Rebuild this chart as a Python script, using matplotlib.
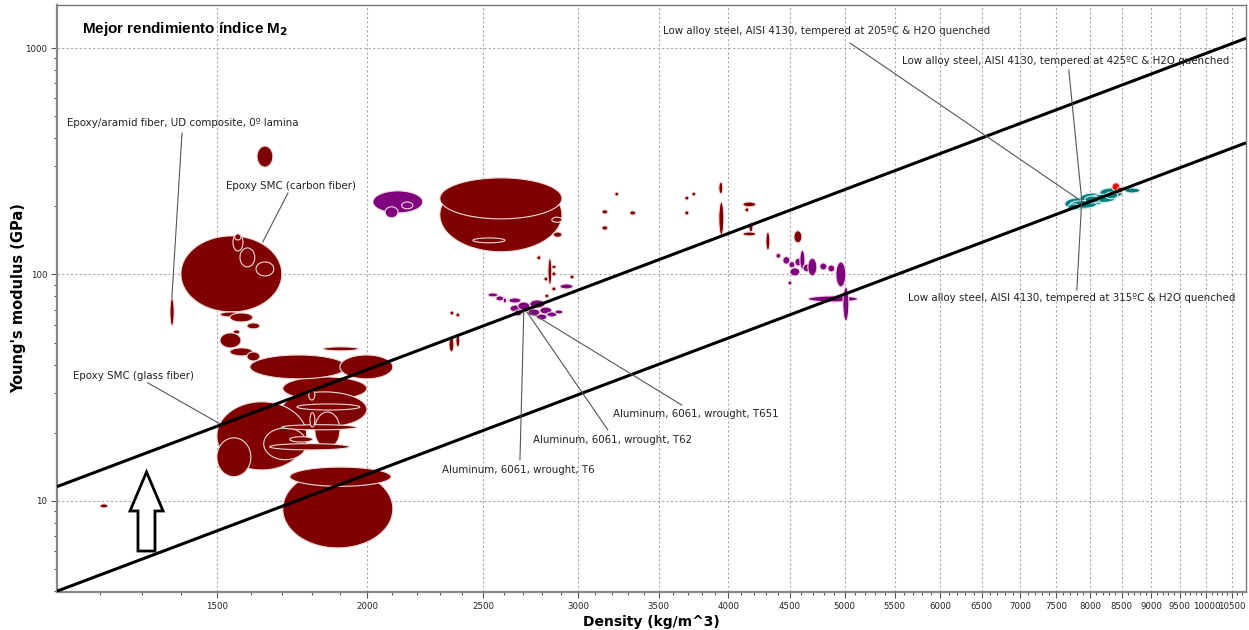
import matplotlib
matplotlib.use("Agg")
import matplotlib.pyplot as plt
import numpy as np
from matplotlib.patches import Polygon
from matplotlib.ticker import FixedLocator, FixedFormatter, NullFormatter

# Bubble extents: (rho_lo, rho_hi, E_lo, E_hi), kg/m^3 and GPa
composite_bubbles = [
    (1371, 1382, 59.2, 78.8),
    (1620, 1670, 298, 369),
    (1400, 1699, 68.3, 148),
    (1547, 1577, 127, 151),
    (1568, 1613, 108, 131),
    (1617, 1673, 98.5, 113.6),
    (1552, 1571, 142, 151),
    (1509, 1574, 64.9, 68.3),
    (1538, 1607, 61.7, 67.6),
    (1589, 1629, 57.5, 61.1),
    (1547, 1568, 54.6, 56.9),
    (1509, 1571, 47.4, 55.2),
    (1538, 1607, 43.7, 47.4),
    (1589, 1629, 41.5, 45.5),
    (1838, 1969, 46.0, 47.9),
    (1702, 2000, 27.9, 35.3),
    (1598, 1924, 34.6, 44.1),
    (1899, 2102, 34.6, 44.1),
    (1699, 2000, 21.2, 30.3),
    (1749, 1973, 25.2, 26.8),
    (1500, 1782, 13.7, 27.4),
    (1810, 1899, 17.1, 24.7),
    (1500, 1601, 12.8, 19.0),
    (1641, 1782, 15.2, 21.0),
    (1660, 1935, 16.8, 17.9),
    (1699, 1962, 20.6, 21.7),
    (1789, 1810, 27.9, 30.9),
    (1793, 1810, 21.2, 24.5),
    (1725, 1803, 18.2, 19.2),
    (1702, 2102, 6.20, 13.7),
    (1725, 2095, 11.6, 14.1),
    (1199, 1217, 9.31, 9.70),
    (2300, 2907, 126, 267),
    (2300, 2907, 176, 267),
    (2451, 2606, 138, 145),
    (2851, 2907, 170, 179),
    (2858, 2907, 146, 154),
    (2770, 2792, 116, 121),
    (2830, 2851, 89.9, 118),
    (2851, 2874, 106, 110),
    (2851, 2874, 98.5, 102.6),
    (2808, 2830, 93.6, 97.5),
    (2952, 2975, 95.5, 99.5),
    (2851, 2874, 84.6, 88.1),
    (2813, 2835, 78.8, 82.0),
    (2345, 2363, 66.2, 69.0),
    (2372, 2390, 64.9, 67.6),
    (2341, 2363, 45.5, 53.0),
    (2372, 2390, 47.9, 54.1),
    (3138, 3174, 185, 193),
    (3138, 3174, 157, 164),
    (3217, 3241, 222, 231),
    (3311, 3349, 183, 191),
    (3679, 3708, 213, 222),
    (3729, 3757, 222, 231),
    (3679, 3708, 183, 191),
    (3927, 3957, 227, 256),
    (3927, 3965, 149, 209),
    (4112, 4216, 199, 209),
    (4128, 4160, 189, 197),
    (4160, 4192, 154, 169),
    (4112, 4216, 148, 154),
    (4298, 4331, 128, 154),
    (4535, 4605, 138, 156),
]

nonferrous_bubbles = [
    (2023, 2226, 187, 234),
    (2071, 2123, 178, 199),
    (2138, 2184, 195, 209),
    (2896, 2969, 86.3, 90.8),
    (2522, 2571, 79.6, 82.9),
    (2561, 2601, 76.4, 80.4),
    (2597, 2614, 74.8, 78.8),
    (2625, 2687, 74.8, 78.8),
    (2631, 2692, 68.3, 73.3),
    (2671, 2733, 69.7, 75.6),
    (2733, 2813, 71.1, 77.2),
    (2786, 2851, 66.9, 71.8),
    (2723, 2786, 65.6, 70.4),
    (2770, 2824, 63.0, 66.9),
    (2824, 2879, 64.9, 68.3),
    (2868, 2912, 66.9, 69.7),
    (2651, 2692, 65.6, 69.7),
    (4381, 4423, 118, 124),
    (4440, 4500, 111, 120),
    (4492, 4544, 107, 114),
    (4544, 4605, 109, 118),
    (4587, 4632, 105, 128),
    (4500, 4587, 98.5, 107),
    (4614, 4694, 102.6, 111.3),
    (4658, 4739, 98.5, 118),
    (4766, 4831, 104.7, 112.4),
    (4840, 4905, 102.6, 110.1),
    (4915, 5010, 88.1, 113.6),
    (4483, 4518, 89.9, 93.6),
    (4658, 5127, 75.6, 80.4),
    (4982, 5039, 62.3, 88.1),
]

steel_bubbles = [
    (7624, 8044, 193, 218),
    (7846, 8262, 203, 229),
    (8153, 8519, 218, 241),
    (8552, 8802, 229, 241),
    (7700, 8100, 196, 212),
    (8000, 8400, 208, 226),
    (7668, 7846, 193, 205),
    (7921, 8153, 207, 222),
    (8232, 8439, 216, 231),
]

highlight_bubbles = [
    (8345, 8472, 234, 254),
    (8424, 8519, 229, 243),
]

# Performance index M2 = E^(1/2) / rho for the two guide lines
m2_values = [3.08e-3, 1.81e-3]

label_texts = [
    "Epoxy/aramid fiber, UD composite, 0º lamina",
    "Epoxy SMC (carbon fiber)",
    "Epoxy SMC (glass fiber)",
    "Aluminum, 6061, wrought, T6",
    "Aluminum, 6061, wrought, T62",
    "Aluminum, 6061, wrought, T651",
    "Low alloy steel, AISI 4130, tempered at 205ºC & H2O quenched",
    "Low alloy steel, AISI 4130, tempered at 425ºC & H2O quenched",
    "Low alloy steel, AISI 4130, tempered at 315ºC & H2O quenched",
]
label_rho = [1125, 1526, 1138, 2309, 2749, 3204, 3527, 5579, 5644]
label_E = [466, 245.8, 35.6, 13.7, 18.6, 24.2, 1189, 876, 78.8]
leader_start = [(1403, 421), (1719, 229), (1314, 33.2), (2682, 15.2), (3174, 20.6),
                (3658, 26.5), (5050, 1052), (7682, 800), (7801, 85.4)]
leader_end = [(1376, 78.8), (1638, 139.2), (1509, 21.9), (2702, 69.0), (2718, 68.3),
              (2733, 68.3), (7846, 213), (7875, 213), (7875, 213)]

x_major = list(range(1500, 10501, 500))
x_minor = [v for v in range(1100, 10800, 100) if v % 500 != 0]
y_major = [10, 100, 1000]

XLIM = (1104, 10790)
YLIM = (3.96, 1549)


def draw_bubble(ax, box, color, edge="#eedcdc"):
    rlo, rhi, elo, ehi = box
    cx = (np.log10(rlo) + np.log10(rhi)) / 2
    cy = (np.log10(elo) + np.log10(ehi)) / 2
    a = (np.log10(rhi) - np.log10(rlo)) / 2
    b = (np.log10(ehi) - np.log10(elo)) / 2
    t = np.linspace(0, 2 * np.pi, 90)
    ax.fill(10 ** (cx + a * np.cos(t)), 10 ** (cy + b * np.sin(t)),
            facecolor=color, edgecolor=edge, linewidth=0.8, zorder=2)


fig = plt.figure(figsize=(12.49, 6.30), dpi=100)
ax = fig.add_axes([57 / 1249, 38 / 630, 1189 / 1249, 587 / 630])
ax.set_xscale("log")
ax.set_yscale("log")
ax.set_xlim(*XLIM)
ax.set_ylim(*YLIM)

for box in composite_bubbles:
    draw_bubble(ax, box, "#800000")
for box in nonferrous_bubbles:
    draw_bubble(ax, box, "#800080")
for box in steel_bubbles:
    draw_bubble(ax, box, "#008080", edge="#d8eeee")
for box in highlight_bubbles:
    draw_bubble(ax, box, "#ff0000", edge="#ffdddd")

rho_line = np.array(XLIM)
for m2 in m2_values:
    ax.plot(rho_line, (m2 * rho_line) ** 2, color="black", lw=2.2, zorder=3,
            solid_capstyle="butt")

for (x0, y0), (x1, y1) in zip(leader_start, leader_end):
    ax.plot([x0, x1], [y0, y1], color="#555555", lw=0.8, zorder=4)
for txt, r, e in zip(label_texts, label_rho, label_E):
    ax.text(r, e, txt, fontsize=7.4, color="#222222", ha="left", va="center", zorder=5)

# hollow "better" arrow
arrow = Polygon([(0.0681, 0.0698), (0.0824, 0.0698), (0.0824, 0.1380), (0.0892, 0.1380),
                 (0.0753, 0.2044), (0.0614, 0.1380), (0.0681, 0.1380)],
                closed=True, transform=ax.transAxes, facecolor="white",
                edgecolor="black", lw=2, zorder=5)
ax.add_patch(arrow)

ax.xaxis.set_major_locator(FixedLocator(x_major))
ax.xaxis.set_major_formatter(FixedFormatter([str(v) for v in x_major]))
ax.xaxis.set_minor_locator(FixedLocator(x_minor))
ax.xaxis.set_minor_formatter(NullFormatter())
ax.yaxis.set_major_locator(FixedLocator(y_major))
ax.yaxis.set_major_formatter(FixedFormatter([str(v) for v in y_major]))
y_minor = [m * d for d in (1, 10, 100, 1000) for m in range(2, 10) if YLIM[0] < m * d < YLIM[1]]
ax.yaxis.set_minor_locator(FixedLocator(y_minor))
ax.yaxis.set_minor_formatter(NullFormatter())

ax.tick_params(which="major", length=4, width=0.8, color="#555555", labelsize=6.2,
               labelcolor="#222222", pad=3)
ax.tick_params(which="minor", length=2.5, width=0.8, color="#555555")
ax.grid(True, which="major", color="#a8a8a8", linestyle=(0, (2, 2)), lw=0.8, zorder=1)
ax.set_axisbelow(True)

for side in ("top", "right"):
    ax.spines[side].set_color("#777777")
    ax.spines[side].set_linewidth(1.0)
for side in ("left", "bottom"):
    ax.spines[side].set_color("#888888")
    ax.spines[side].set_linewidth(1.6)

ax.set_xlabel("Density (kg/m^3)", fontsize=10, fontweight="bold", labelpad=3)
ax.set_ylabel("Young's modulus (GPa)", fontsize=10.5, fontweight="bold")
ax.yaxis.set_label_coords(-0.0255, 0.5)

fig.text(82 / 1249, 1 - 29 / 630, r"Mejor rendimiento índice M$_\mathbf{2}$",
         fontsize=11, fontweight="bold", family="Liberation Sans", ha="left", va="center")

fig.savefig("out.png", dpi=100)
